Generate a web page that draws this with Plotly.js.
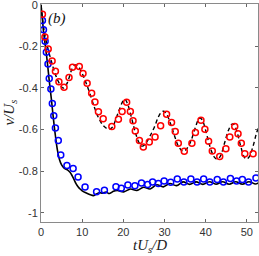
<!DOCTYPE html>
<html>
<head>
<meta charset="utf-8">
<script src="https://cdn.plot.ly/plotly-3.0.1.min.js"></script>
<style>html,body{margin:0;padding:0;background:#fff;}#chart{width:259px;height:256px;}</style>
</head>
<body>
<div id="chart"></div>
<script>
// Solid black line (series 1)
const solidX = [0, 0.3, 0.6, 1, 1.5, 2, 2.5, 3, 3.5, 4, 4.5, 5, 5.5, 6, 6.5, 7, 7.5, 8, 8.5, 9, 9.5, 10, 11, 12, 12.7, 13.4, 14.2, 15, 15.8, 16.6, 17.4, 18.5, 20.1, 21.7, 23.3, 24.9, 26.5, 28.1, 29.7, 31.3, 32.9, 34.5, 36.1, 37.7, 39.3, 40.9, 42.5, 44.1, 45.7, 47.3, 48.9, 50.5, 52.1, 53];
const solidY = [0, -0.06, -0.125, -0.19, -0.27, -0.365, -0.45, -0.545, -0.63, -0.7, -0.745, -0.77, -0.783, -0.79, -0.795, -0.805, -0.82, -0.84, -0.86, -0.875, -0.886, -0.895, -0.905, -0.914, -0.918, -0.911, -0.904, -0.906, -0.901, -0.908, -0.899, -0.893, -0.9, -0.886, -0.893, -0.878, -0.886, -0.866, -0.876, -0.86, -0.87, -0.852, -0.864, -0.852, -0.864, -0.851, -0.863, -0.851, -0.863, -0.851, -0.863, -0.851, -0.862, -0.855];

// Dashed black line (series 2)
const dashX = [0, 0.5, 1, 1.5, 2, 2.5, 3, 3.5, 4, 4.5, 5, 5.5, 6, 6.5, 7, 7.5, 8.2, 9, 9.5, 10, 11, 12, 13, 14, 15, 16, 16.7, 17.5, 18, 19, 20, 20.4, 21, 22, 23, 24, 24.6, 25.5, 26.5, 27.5, 28.5, 29.3, 29.8, 30.5, 31.5, 32.5, 33.5, 34.5, 35.5, 36.5, 37.5, 38.2, 38.7, 39.3, 40, 41, 42, 42.7, 43.5, 44.5, 45.5, 46.3, 46.8, 47.5, 48.5, 49.3, 49.9, 50.6, 51.5, 52.3, 53];
const dashY = [0, -0.09, -0.15, -0.195, -0.235, -0.27, -0.305, -0.335, -0.36, -0.38, -0.395, -0.4, -0.39, -0.37, -0.34, -0.31, -0.29, -0.295, -0.31, -0.33, -0.378, -0.435, -0.495, -0.545, -0.578, -0.595, -0.598, -0.585, -0.56, -0.505, -0.46, -0.455, -0.475, -0.545, -0.62, -0.67, -0.68, -0.665, -0.63, -0.59, -0.54, -0.515, -0.512, -0.525, -0.575, -0.635, -0.685, -0.705, -0.69, -0.65, -0.59, -0.553, -0.545, -0.56, -0.605, -0.68, -0.73, -0.742, -0.73, -0.67, -0.605, -0.575, -0.575, -0.605, -0.68, -0.73, -0.742, -0.73, -0.68, -0.62, -0.58];

// Blue open circles (series 3)
const blueX = [0.35, 0.6, 1.0, 1.3, 1.7, 2.0, 2.4, 2.75, 3.1, 3.5, 4.2, 4.8, 6.3, 7.8, 9.0, 10.7, 13.5, 15.4, 18.2, 19.5, 21.1, 22.8, 24.4, 25.9, 27.1, 28.5, 29.9, 31.5, 33.1, 34.7, 36.4, 37.9, 39.5, 41.0, 42.8, 44.3, 46.0, 47.5, 48.9, 50.4, 52.2];
const blueY = [-0.075, -0.12, -0.175, -0.228, -0.285, -0.355, -0.405, -0.475, -0.534, -0.593, -0.653, -0.722, -0.773, -0.787, -0.829, -0.876, -0.899, -0.892, -0.875, -0.882, -0.867, -0.87, -0.857, -0.864, -0.852, -0.86, -0.848, -0.854, -0.838, -0.852, -0.838, -0.852, -0.838, -0.852, -0.84, -0.852, -0.836, -0.848, -0.84, -0.852, -0.833];

// Red open circles (series 4)
const redX = [0.35, 0.95, 1.75, 2.7, 3.5, 4.35, 5.6, 6.8, 7.65, 9.3, 10.2, 11.2, 12.3, 13.1, 13.95, 15.1, 17.2, 18.8, 19.7, 20.8, 21.7, 22.35, 22.9, 23.9, 24.85, 26.3, 27.7, 29.05, 30.5, 31.7, 32.6, 33.35, 34.8, 36.65, 37.5, 38.85, 39.8, 40.7, 41.6, 43.4, 44.9, 45.85, 47.05, 47.85, 48.65, 49.5, 51.5];
const redY = [-0.045, -0.155, -0.213, -0.27, -0.32, -0.37, -0.396, -0.35, -0.3, -0.297, -0.33, -0.377, -0.425, -0.467, -0.514, -0.548, -0.585, -0.55, -0.513, -0.469, -0.513, -0.558, -0.607, -0.653, -0.684, -0.66, -0.636, -0.582, -0.526, -0.566, -0.61, -0.666, -0.705, -0.666, -0.614, -0.555, -0.599, -0.657, -0.703, -0.73, -0.693, -0.636, -0.585, -0.62, -0.666, -0.717, -0.717];

// Tick labels and titles
const xTickVals = [0, 10, 20, 30, 40, 50];
const xTickText = ['0', '10', '20', '30', '40', '50'];
const yTickVals = [0, -0.2, -0.4, -0.6, -0.8, -1];
const yTickText = ['0', '-0.2', '-0.4', '-0.6', '-0.8', '-1'];
const xTitle = '<i>tU</i><sub><i>s</i></sub><i>/D</i>';
const yTitle = '<i>v/U</i><sub><i>s</i></sub>';
const panelLabel = '<i>(b)</i>';

const traces = [
  {x: solidX, y: solidY, type: 'scatter', mode: 'lines', line: {color: '#000', width: 1.6, shape: 'spline', smoothing: 1}, hoverinfo: 'skip'},
  {x: dashX, y: dashY, type: 'scatter', mode: 'lines', line: {color: '#000', width: 1.4, dash: '4px,3px', shape: 'spline', smoothing: 1}, hoverinfo: 'skip'},
  {x: blueX, y: blueY, type: 'scatter', mode: 'markers', marker: {symbol: 'circle-open', size: 6, color: '#0000ff', line: {width: 1.5, color: '#0000ff'}}},
  {x: redX, y: redY, type: 'scatter', mode: 'markers', marker: {symbol: 'circle-open', size: 6, color: '#ff0000', line: {width: 1.5, color: '#ff0000'}}}
];

const axisCommon = {
  showgrid: false, zeroline: false, showline: true, linecolor: '#8a8a8a', linewidth: 1,
  mirror: 'ticks', ticks: 'inside', ticklen: 3, tickcolor: '#404040', tickwidth: 0.8,
  ticklabeloverflow: 'allow', automargin: false,
  tickfont: {family: 'Liberation Sans, Arial, sans-serif', size: 11, color: '#333'}
};

const titleFont = {family: 'Liberation Serif, DejaVu Serif, serif', size: 15, color: '#222'};

const layout = {
  width: 259, height: 256,
  margin: {l: 41, r: 1, t: 4, b: 34},
  paper_bgcolor: '#fff', plot_bgcolor: '#fff',
  showlegend: false,
  xaxis: Object.assign({}, axisCommon, {range: [0, 52.7], tickvals: xTickVals, ticktext: xTickText}),
  yaxis: Object.assign({}, axisCommon, {range: [-1.045, 0.004], tickvals: yTickVals, ticktext: yTickText}),
  annotations: [
    {x: 0.5, y: -0.11, xref: 'paper', yref: 'paper', xanchor: 'center', yanchor: 'middle', text: xTitle, showarrow: false, font: titleFont},
    {x: -0.145, y: 0.5, xref: 'paper', yref: 'paper', xanchor: 'center', yanchor: 'middle', textangle: -90, text: yTitle, showarrow: false, font: titleFont},
    {x: 4.0, y: -0.067, xref: 'x', yref: 'y', text: panelLabel, showarrow: false, font: {family: 'Liberation Serif, DejaVu Serif, serif', size: 15, color: '#111'}}
  ]
};

Plotly.newPlot('chart', traces, layout, {staticPlot: true, displayModeBar: false});
</script>
</body>
</html>
